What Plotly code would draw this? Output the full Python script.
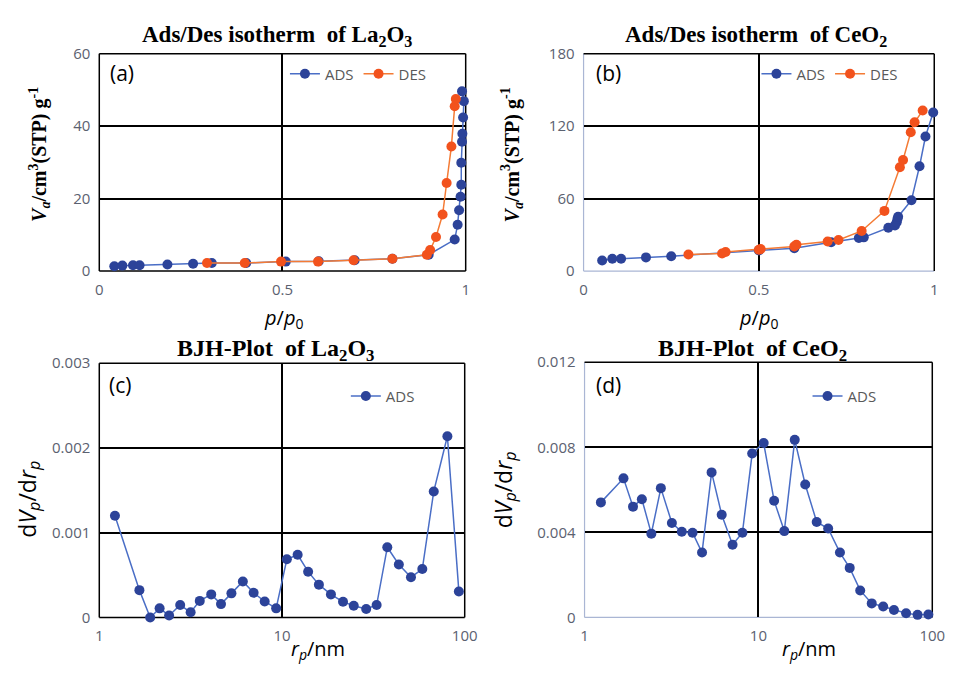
import plotly.graph_objects as go

# ---------------- data ----------------
# (a) La2O3 isotherm
a_ads_x = [0.041, 0.063, 0.092, 0.110, 0.186, 0.256, 0.307, 0.401, 0.509, 0.599, 0.697, 0.800,
           0.899, 0.970, 0.978, 0.982, 0.986, 0.988, 0.988, 0.990, 0.991, 0.993, 0.995, 0.990]
a_ads_y = [1.3, 1.5, 1.6, 1.6, 1.8, 2.0, 2.2, 2.2, 2.6, 2.7, 3.0, 3.4,
           4.5, 8.7, 12.8, 16.8, 20.5, 23.8, 29.9, 35.7, 37.9, 42.4, 46.9, 49.6]
a_des_x = [0.294, 0.397, 0.496, 0.597, 0.694, 0.800, 0.894, 0.903, 0.919, 0.937, 0.948, 0.961, 0.970, 0.973]
a_des_y = [2.2, 2.2, 2.6, 2.6, 3.0, 3.4, 4.5, 5.8, 9.4, 15.6, 24.3, 34.4, 45.5, 47.5]

# (b) CeO2 isotherm
b_ads_x = [0.053, 0.082, 0.107, 0.178, 0.250, 0.500, 0.601, 0.706, 0.785, 0.799, 0.869, 0.888,
           0.893, 0.895, 0.897, 0.935, 0.958, 0.975, 0.997]
b_ads_y = [8.8, 10.2, 10.2, 11.3, 12.3, 17.1, 18.8, 23.8, 27.3, 27.9, 35.9, 37.8,
           40.4, 43.1, 45.0, 58.7, 86.8, 111.4, 131.3]
b_des_x = [0.299, 0.395, 0.405, 0.500, 0.505, 0.601, 0.607, 0.696, 0.727, 0.793, 0.858, 0.902,
           0.911, 0.933, 0.944, 0.967]
b_des_y = [13.7, 14.5, 15.8, 17.7, 18.2, 20.4, 21.7, 24.4, 25.7, 33.2, 49.8, 86.0,
           91.9, 114.9, 123.2, 132.9]

# (c) La2O3 BJH
c_x = [1.218, 1.658, 1.899, 2.139, 2.411, 2.772, 3.162, 3.548, 4.099, 4.636, 5.287, 6.105,
       6.993, 8.04, 9.29, 10.63, 12.18, 13.9, 15.92, 18.53, 21.58, 24.7, 28.9, 32.96,
       37.7, 43.6, 50.8, 58.6, 67.7, 80.4, 92.9]
c_y = [0.00120, 0.000322, 0.0, 0.000107, 0.000023, 0.000146, 0.000061, 0.000195, 0.000272,
       0.000157, 0.000284, 0.000425, 0.000291, 0.000188, 0.000107, 0.000686, 0.000739,
       0.00054, 0.000387, 0.000272, 0.000184, 0.000138, 0.0001, 0.000146, 0.000828,
       0.000625, 0.000475, 0.000571, 0.001487, 0.002138, 0.000307]

# (d) CeO2 BJH
d_x = [1.242, 1.675, 1.900, 2.136, 2.422, 2.747, 3.18, 3.625, 4.18, 4.74, 5.38, 6.15, 7.10,
       8.09, 9.21, 10.72, 12.31, 14.09, 16.18, 18.59, 21.64, 25.18, 29.44, 33.5, 38.5,
       44.85, 52.2, 60.2, 70.7, 82.3, 94.9]
d_y = [0.00541, 0.00654, 0.00521, 0.00556, 0.00394, 0.00608, 0.00444, 0.00403, 0.00398,
       0.00305, 0.00682, 0.00483, 0.00342, 0.00398, 0.00771, 0.0082, 0.00549, 0.00406,
       0.00835, 0.00625, 0.00449, 0.00418, 0.00305, 0.00233, 0.00127, 0.00066, 0.00051,
       0.00035, 0.0002, 0.00012, 0.00014]

# ticks
a_yticks = [0, 20, 40, 60]
b_yticks = [0, 60, 120, 180]
c_yticks = [0, 0.001, 0.002, 0.003]
d_yticks = [0, 0.004, 0.008, 0.012]
iso_xticks = [0, 0.5, 1]
iso_xtext = ["0", "0.5", "1"]
log_xticks = [1, 10, 100]
log_xtext = ["1", "10", "100"]

# ---------------- style ----------------
W, H = 961, 673
ADS_MK, ADS_LN = "#2c4399", "#4a6ec6"
DES_MK, DES_LN = "#f2521d", "#f47b35"
TICK_FONT = dict(family="Open Sans, Liberation Sans, sans-serif", size=15, color="#5b6170")
LEG_FONT = dict(family="Open Sans, Liberation Sans, sans-serif", size=15, color="#595959")
LIGHT = "#aab6d4"

def px_x(p):
    return p / W

def px_y(p):
    return 1 - p / H

# panel domains in pixels
dom = {
    "a": ((97, 470), (44, 268)),
    "b": ((590, 947), (44, 268)),
    "c": ((97, 469), (363, 625)),
    "d": ((591, 945), (362, 625)),
}

fig = go.Figure()

def add(x, y, name, mk, ln, xa, ya, leg, show=True):
    fig.add_trace(go.Scatter(
        x=x, y=y, name=name, mode="lines+markers",
        line=dict(color=ln, width=1.5),
        marker=dict(color=mk, size=10, line=dict(width=0)),
        xaxis=xa, yaxis=ya, legend=leg, showlegend=show, cliponaxis=False))

add(a_ads_x, a_ads_y, "ADS", ADS_MK, ADS_LN, "x", "y", "legend")
add(a_des_x, a_des_y, "DES", DES_MK, DES_LN, "x", "y", "legend")
add(b_ads_x, b_ads_y, "ADS", ADS_MK, ADS_LN, "x2", "y2", "legend2")
add(b_des_x, b_des_y, "DES", DES_MK, DES_LN, "x2", "y2", "legend2")
add(c_x, c_y, "ADS", ADS_MK, ADS_LN, "x3", "y3", "legend3")
add(d_x, d_y, "ADS", ADS_MK, ADS_LN, "x4", "y4", "legend4")

def xaxis(key, rng, tv, tt, log=False, grid_at=None):
    (x0, x1), (y0, y1) = dom[key]
    d = dict(domain=[px_x(x0), px_x(x1)], range=rng, tickmode="array", tickvals=tv, ticktext=tt,
             showgrid=False, zeroline=False, showline=False, ticks="", tickfont=TICK_FONT,
             ticklabelstandoff=8, fixedrange=True,
             minor=dict(tickmode="array", tickvals=grid_at, showgrid=True, gridcolor="black",
                        gridwidth=1.5, ticks=""))
    if log:
        d["type"] = "log"
    return d

def yaxis(key, rng, tv, grid_at):
    (x0, x1), (y0, y1) = dom[key]
    return dict(domain=[px_y(y1), px_y(y0)], range=rng, tickmode="array", tickvals=tv,
                ticktext=[("%g" % v) for v in tv],
                showgrid=False, zeroline=False, showline=False, ticks="", tickfont=TICK_FONT,
                ticklabelstandoff=8, fixedrange=True,
                minor=dict(tickmode="array", tickvals=grid_at, showgrid=True, gridcolor="black",
                           gridwidth=1.5, ticks=""))

fig.update_layout(
    width=W, height=H, margin=dict(l=0, r=0, t=0, b=0),
    paper_bgcolor="white", plot_bgcolor="white",
    xaxis=dict(xaxis("a", [0, 1], iso_xticks, iso_xtext, grid_at=[0.5]), anchor="y"),
    yaxis=dict(yaxis("a", [0, 60], a_yticks, [20, 40]), anchor="x"),
    xaxis2=dict(xaxis("b", [0, 1], iso_xticks, iso_xtext, grid_at=[0.5]), anchor="y2"),
    yaxis2=dict(yaxis("b", [0, 180], b_yticks, [60, 120]), anchor="x2"),
    xaxis3=dict(xaxis("c", [0, 2], log_xticks, log_xtext, log=True, grid_at=[10]), anchor="y3"),
    yaxis3=dict(yaxis("c", [0, 0.003], c_yticks, [0.001, 0.002]), anchor="x3"),
    xaxis4=dict(xaxis("d", [0, 2], log_xticks, log_xtext, log=True, grid_at=[10]), anchor="y4"),
    yaxis4=dict(yaxis("d", [0, 0.012], d_yticks, [0.004, 0.008]), anchor="x4"),
)

def legend(xp, yp):
    return dict(x=px_x(xp), y=px_y(yp), xanchor="left", yanchor="middle", orientation="h",
                bgcolor="rgba(0,0,0,0)", font=LEG_FONT, itemwidth=30, tracegroupgap=0)

fig.update_layout(
    legend=legend(286, 65),
    legend2=legend(766, 65),
    legend3=legend(348, 397),
    legend4=legend(818, 397),
)

# frames
shapes = []
for key, xa, ya, light in [("a", "x", "y", False), ("b", "x2", "y2", True),
                           ("c", "x3", "y3", False), ("d", "x4", "y4", True)]:
    xr, yr = xa + " domain", ya + " domain"
    lc = LIGHT if light else "black"
    lw = 1.2 if light else 1.5
    shapes.append(dict(type="line", xref=xr, yref=yr, x0=0, x1=0, y0=0, y1=1,
                       line=dict(color=lc, width=lw), layer="below"))
    shapes.append(dict(type="line", xref=xr, yref=yr, x0=0, x1=1, y0=0, y1=0,
                       line=dict(color=lc, width=lw), layer="below"))
    shapes.append(dict(type="line", xref=xr, yref=yr, x0=1, x1=1, y0=0, y1=1,
                       line=dict(color="black", width=1.5), layer="below"))
    shapes.append(dict(type="line", xref=xr, yref=yr, x0=0, x1=1, y0=1, y1=1,
                       line=dict(color="black", width=1.5), layer="below"))
fig.update_layout(shapes=shapes)

SERIF_T = dict(family="Liberation Serif, Times New Roman, serif", size=23, color="black")
SERIF_B = dict(family="Liberation Serif, Times New Roman, serif", size=24, color="black")
SANS = dict(family="Open Sans, Liberation Sans, sans-serif", size=20, color="black")

ann = []
def A(text, xp, yp, font, angle=0, xanchor="center"):
    ann.append(dict(text=text, x=px_x(xp), y=px_y(yp), xref="paper", yref="paper",
                    showarrow=False, font=font, textangle=angle, xanchor=xanchor,
                    yanchor="middle"))

A("<b>Ads/Des isotherm  of La<sub>2</sub>O<sub>3</sub></b>", 278, 26, SERIF_T)
A("<b>Ads/Des isotherm  of CeO<sub>2</sub></b>", 766, 26, SERIF_T)
A("<b>BJH-Plot  of La<sub>2</sub>O<sub>3</sub></b>", 276, 349, SERIF_B)
A("<b>BJH-Plot  of CeO<sub>2</sub></b>", 762, 349, SERIF_B)

YL = dict(family="Liberation Serif, Times New Roman, serif", size=20, color="black")
A("<b><i>V</i><sub><i>a</i></sub>/cm<sup>3</sup>(STP) g<sup>-1</sup></b>", 36, 148, YL, angle=-90)
A("<b><i>V</i><sub><i>a</i></sub>/cm<sup>3</sup>(STP) g<sup>-1</sup></b>", 517, 148, YL, angle=-90)
YS = dict(family="Open Sans, Liberation Sans, sans-serif", size=23, color="black")
A("d<i>V</i><sub><i>p</i></sub>/d<i>r</i><sub><i>p</i></sub>", 24, 503, YS, angle=-90)
A("d<i>V</i><sub><i>p</i></sub>/d<i>r</i><sub><i>p</i></sub>", 509, 493, YS, angle=-90)

A("<i>p</i>/<i>p</i><sub>0</sub>", 285, 317, SANS)
A("<i>p</i>/<i>p</i><sub>0</sub>", 768, 317, SANS)
A("<i>r</i><sub><i>p</i></sub>/nm", 320, 658, SANS)
A("<i>r</i><sub><i>p</i></sub>/nm", 820, 658, SANS)

PL = dict(family="Open Sans, Liberation Sans, sans-serif", size=21, color="black")
A("(a)", 106, 64, PL, xanchor="left")
A("(b)", 601, 64, PL, xanchor="left")
A("(c)", 105, 385, PL, xanchor="left")
A("(d)", 601, 385, PL, xanchor="left")
fig.update_layout(annotations=ann)

fig.write_html("out.html", config={"displayModeBar": False},
               post_script="document.body.style.margin='0';document.body.style.padding='0';")
